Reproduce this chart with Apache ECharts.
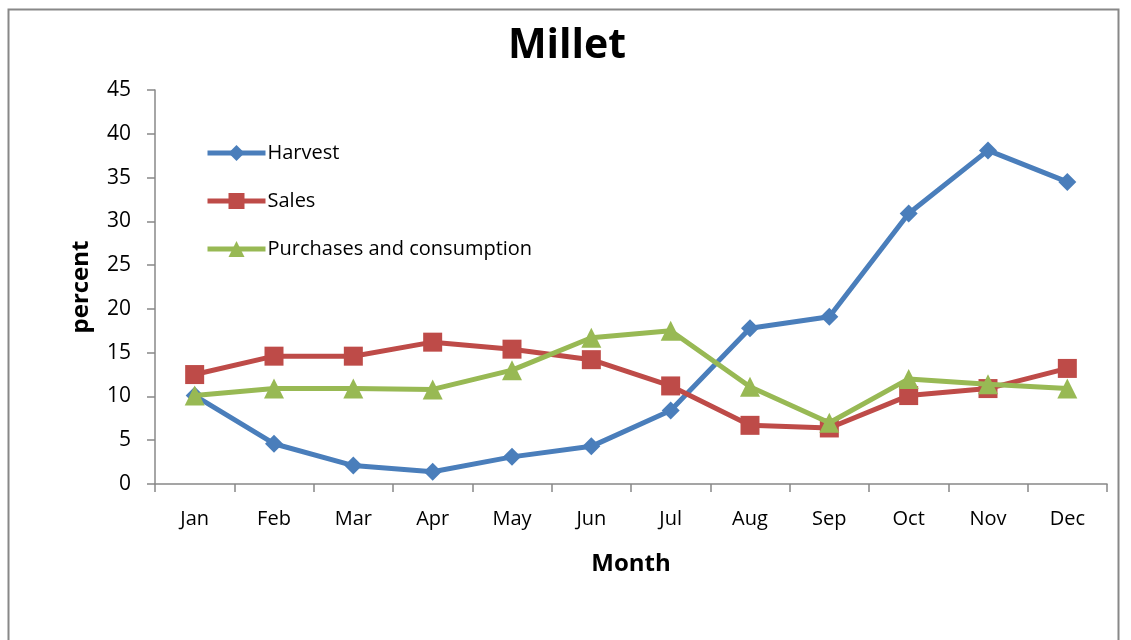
<!DOCTYPE html>
<html>
<head>
<meta charset="utf-8">
<script src="https://cdn.jsdelivr.net/npm/echarts@6/dist/echarts.min.js"></script>
<style>
  html, body { margin: 0; padding: 0; background: #fff; }
  #chart { width: 1131px; height: 640px; }
</style>
</head>
<body>
<div id="chart"></div>
<script>
const months = ['Jan', 'Feb', 'Mar', 'Apr', 'May', 'Jun', 'Jul', 'Aug', 'Sep', 'Oct', 'Nov', 'Dec']
const harvest = [10.1, 4.6, 2.1, 1.4, 3.1, 4.3, 8.4, 17.8, 19.1, 30.9, 38.1, 34.5]
const sales = [12.5, 14.6, 14.6, 16.2, 15.4, 14.2, 11.2, 6.7, 6.4, 10.1, 10.9, 13.2]
const purchases = [10.1, 10.9, 10.9, 10.8, 13.0, 16.7, 17.5, 11.1, 7.0, 12.0, 11.4, 10.9]

const font = '"Open Sans", "Liberation Sans", sans-serif'
const chart = echarts.init(document.getElementById('chart'))

const option = {
  animation: false,
  textStyle: { fontFamily: font },
  graphic: [{
    type: 'rect',
    shape: { x: 8.5, y: 9.5, width: 1110, height: 660 },
    style: { fill: 'none', stroke: '#888', lineWidth: 2 },
    silent: true
  }],
  title: {
    text: 'Millet',
    left: 562,
    textAlign: 'center',
    top: 21,
    textStyle: { fontSize: 41, fontWeight: 'bold', color: '#000', fontFamily: font }
  },
  legend: {
    orient: 'vertical',
    left: 200,
    top: 138,
    itemGap: 28,
    itemWidth: 58,
    itemHeight: 20,
    lineStyle: { width: 5 },
    textStyle: { fontSize: 20, color: '#000', fontFamily: font, padding: [0, 0, 0, -3] },
    data: ['Harvest', 'Sales', 'Purchases and consumption']
  },
  grid: { left: 155, right: 24, top: 90, bottom: 156 },
  xAxis: {
    type: 'category',
    data: months,
    boundaryGap: true,
    name: 'Month',
    nameLocation: 'middle',
    nameGap: 68,
    nameTextStyle: { fontSize: 24, fontWeight: 'bold', color: '#000', fontFamily: font },
    axisLine: { lineStyle: { color: '#888', width: 1.5 } },
    axisTick: { show: true, length: 8, lineStyle: { color: '#888', width: 1.5 } },
    axisLabel: { fontSize: 20, color: '#000', margin: 25, fontFamily: font }
  },
  yAxis: {
    type: 'value',
    min: 0,
    max: 45,
    interval: 5,
    name: 'percent',
    nameLocation: 'middle',
    nameGap: 62,
    nameRotate: 90,
    nameTextStyle: { fontSize: 24, fontWeight: 'bold', color: '#000', fontFamily: font },
    axisLine: { show: true, lineStyle: { color: '#888', width: 1.5 } },
    axisTick: { show: true, length: 8, lineStyle: { color: '#888', width: 1.5 } },
    splitLine: { show: false },
    axisLabel: { fontSize: 21, color: '#000', margin: 24, fontFamily: font }
  },
  series: [
    {
      name: 'Harvest',
      type: 'line',
      data: harvest,
      symbol: 'diamond',
      symbolSize: 18,
      itemStyle: { color: '#4A7EBB' },
      lineStyle: { width: 5, color: '#4A7EBB' },
      z: 3
    },
    {
      name: 'Sales',
      type: 'line',
      data: sales,
      symbol: 'rect',
      symbolSize: 19,
      itemStyle: { color: '#BE4B48' },
      lineStyle: { width: 5, color: '#BE4B48' },
      z: 4
    },
    {
      name: 'Purchases and consumption',
      type: 'line',
      data: purchases,
      symbol: 'triangle',
      symbolSize: 20,
      itemStyle: { color: '#98B954' },
      lineStyle: { width: 5, color: '#98B954' },
      z: 5
    }
  ]
}

chart.setOption(option)
</script>
</body>
</html>
